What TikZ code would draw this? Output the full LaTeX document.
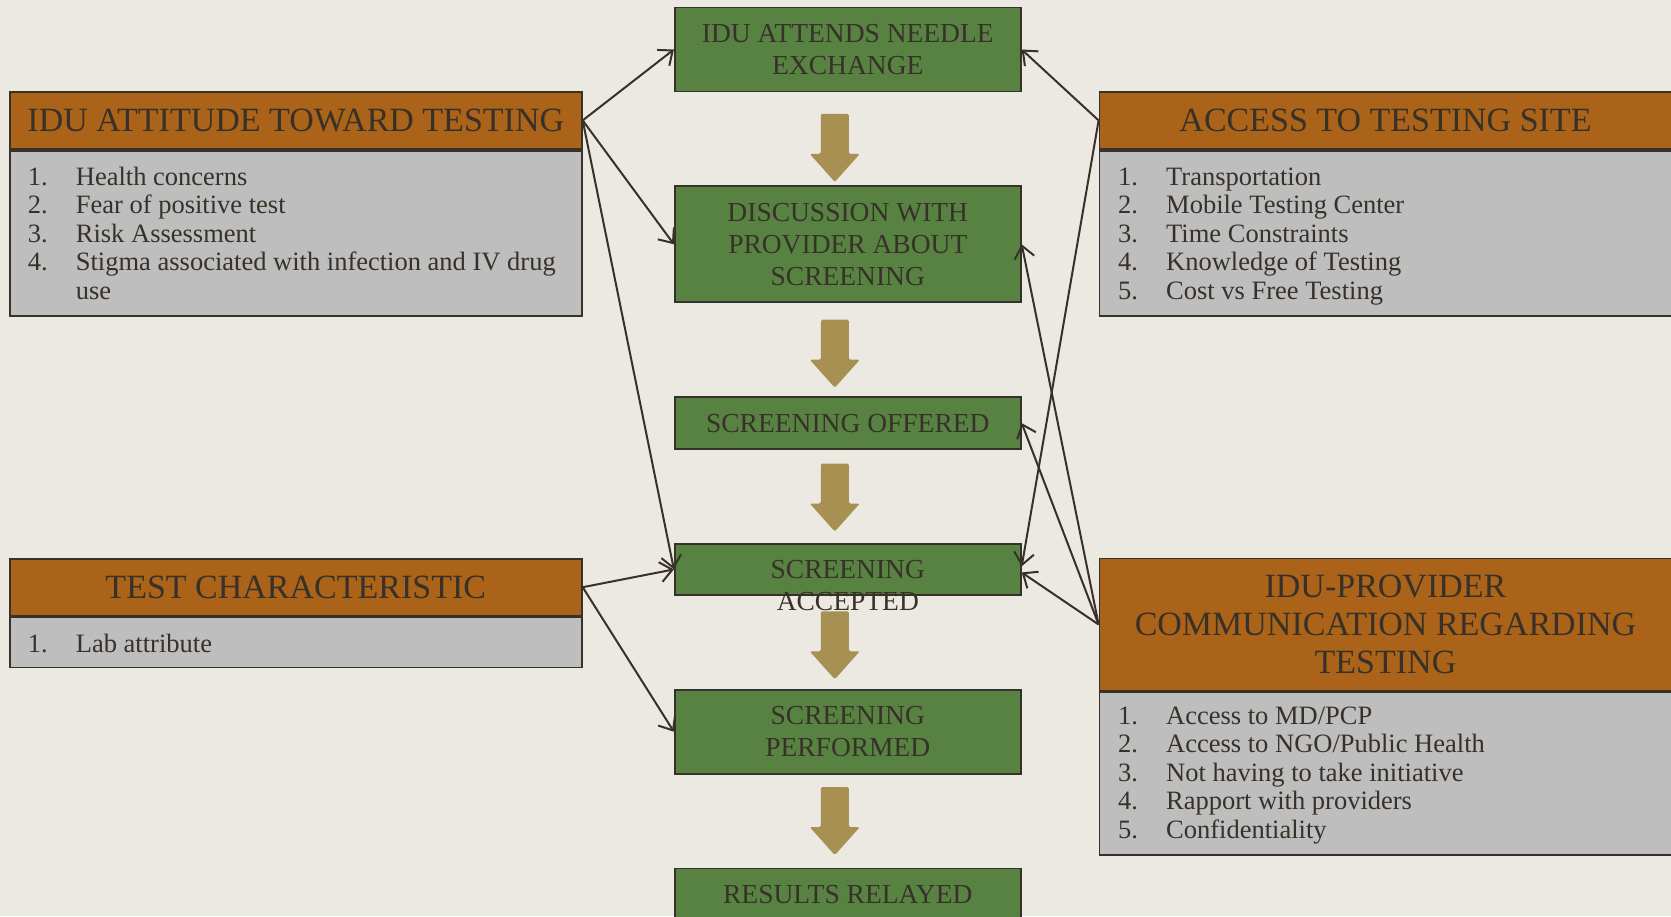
\documentclass[tikz,border=0pt]{standalone}
\usepackage{fontspec}
\setmainfont{Liberation Serif}
\usepackage{xcolor}
\definecolor{idBack}{RGB}{236,233,227}
\definecolor{idOrange}{RGB}{170,99,24}
\definecolor{idGreen}{RGB}{88,130,66}
\definecolor{idGray}{RGB}{190,190,190}
\definecolor{idGold}{RGB}{168,143,82}
\definecolor{idInk}{RGB}{55,49,41}
\usetikzlibrary{positioning,arrows.meta,calc}
\newcommand{\itm}[2]{\makebox[48pt][l]{#1}#2}

\begin{document}
\begin{tikzpicture}[x=1pt,y=-1pt,node distance=93pt,
  flow/.style={draw=idInk,fill=idGreen,line width=1.8pt,minimum width=346pt,align=center,text=idInk,font=\fontsize{27.5}{32}\selectfont,inner sep=0pt},
  head/.style={draw=idInk,fill=idOrange,line width=1.8pt,minimum width=572pt,align=center,text=idInk,font=\fontsize{34}{38}\selectfont,inner sep=0pt},
  items/.style={draw=idInk,fill=idGray,line width=1.8pt,minimum width=572pt,inner sep=0pt},
  itemtxt/.style={anchor=base west,text=idInk,font=\fontsize{26.5}{28.6}\selectfont,inner sep=0pt},
  link/.style={-{Straight Barb[length=12pt,width=20pt]},idInk,line width=2pt},
  godown/.pic={\fill[idGold,rounded corners=1.5pt] (-14,-34) -- (14,-34) -- (14,6) -- (25,6) -- (0,34) -- (-25,6) -- (-14,6) -- cycle;}]
  \fill[idBack] (0,0) rectangle (1671,916);
  \useasboundingbox (0,0) rectangle (1671,916);

  % screening steps
  \node[flow,minimum height=84pt] (need) at (847.8,49.5) {IDU ATTENDS NEEDLE\\EXCHANGE};
  \node[flow,minimum height=116pt,below=of need] (disc) {DISCUSSION WITH\\PROVIDER ABOUT\\SCREENING};
  \node[flow,minimum height=52pt,below=of disc] (off) {SCREENING OFFERED};
  \node[flow,minimum height=51pt,below=of off] (acc) {};
  \node[flow,draw=none,fill=none] (acctxt) at ($(acc.center)+(0,16.5)$) {SCREENING\\ACCEPTED};
  \node[flow,minimum height=84pt,below=of acc] (perf) {SCREENING\\PERFORMED};
  \node[flow,minimum height=52pt,below=of perf] (res) {RESULTS RELAYED};
  \foreach \a/\b/\d in {need/disc/9,disc/off/4,off/acc/1,acc/perf/3,perf/res/0}
    \pic at ($(\a.south)!.5!(\b.north)+(-13,\d)$) {godown};

  % factors
  \node[head,minimum height=57pt] (att) at (295.8,120.4) {IDU ATTITUDE TOWARD TESTING};
  \node[items,minimum height=165pt,below=0pt of att] (attlist) {};
  \node[itemtxt] (atttxt) at (27.7,185) {\parbox[t]{540pt}{\itm{1.}{Health concerns}\\\itm{2.}{Fear of positive test}\\\itm{3.}{Risk Assessment}\\\itm{4.}{Stigma associated with infection and IV drug}\\\itm{}{use}}};

  \node[head,minimum height=57pt] (tc) at (295.8,587.2) {TEST CHARACTERISTIC};
  \node[items,minimum height=50pt,below=0pt of tc] (tclist) {};
  \node[itemtxt] (tctxt) at (27.7,652) {\itm{1.}{Lab attribute}};

  \node[head,minimum height=57pt] (acs) at (1385.5,120.4) {ACCESS TO TESTING SITE};
  \node[items,minimum height=165pt,below=0pt of acs] (acslist) {};
  \node[itemtxt] (acstxt) at (1118,185) {\parbox[t]{540pt}{\itm{1.}{Transportation}\\\itm{2.}{Mobile Testing Center}\\\itm{3.}{Time Constraints}\\\itm{4.}{Knowledge of Testing}\\\itm{5.}{Cost vs Free Testing}}};

  \node[head,minimum height=132pt] (com) at (1385.5,624.5) {IDU-PROVIDER\\COMMUNICATION REGARDING\\TESTING};
  \node[items,minimum height=163pt,below=0pt of com] (comlist) {};
  \node[itemtxt] (comtxt) at (1118,724) {\parbox[t]{540pt}{\itm{1.}{Access to MD/PCP}\\\itm{2.}{Access to NGO/Public Health}\\\itm{3.}{Not having to take initiative}\\\itm{4.}{Rapport with providers}\\\itm{5.}{Confidentiality}}};

  % influences
  \draw[link] (att.east) -- (need.west);
  \draw[link] (att.east) -- (disc.west);
  \draw[link] (att.east) -- (acc.west);
  \draw[link] (tc.east) -- (acc.west);
  \draw[link] (tc.east) -- (perf.west);
  \draw[link] (acs.west) -- (need.east);
  \draw[link] (acs.west) -- (acc.1);
  \draw[link] (com.west) -- (disc.east);
  \draw[link] (com.west) -- (off.east);
  \draw[link] (com.west) -- (acc.-1);
\end{tikzpicture}
\end{document}
